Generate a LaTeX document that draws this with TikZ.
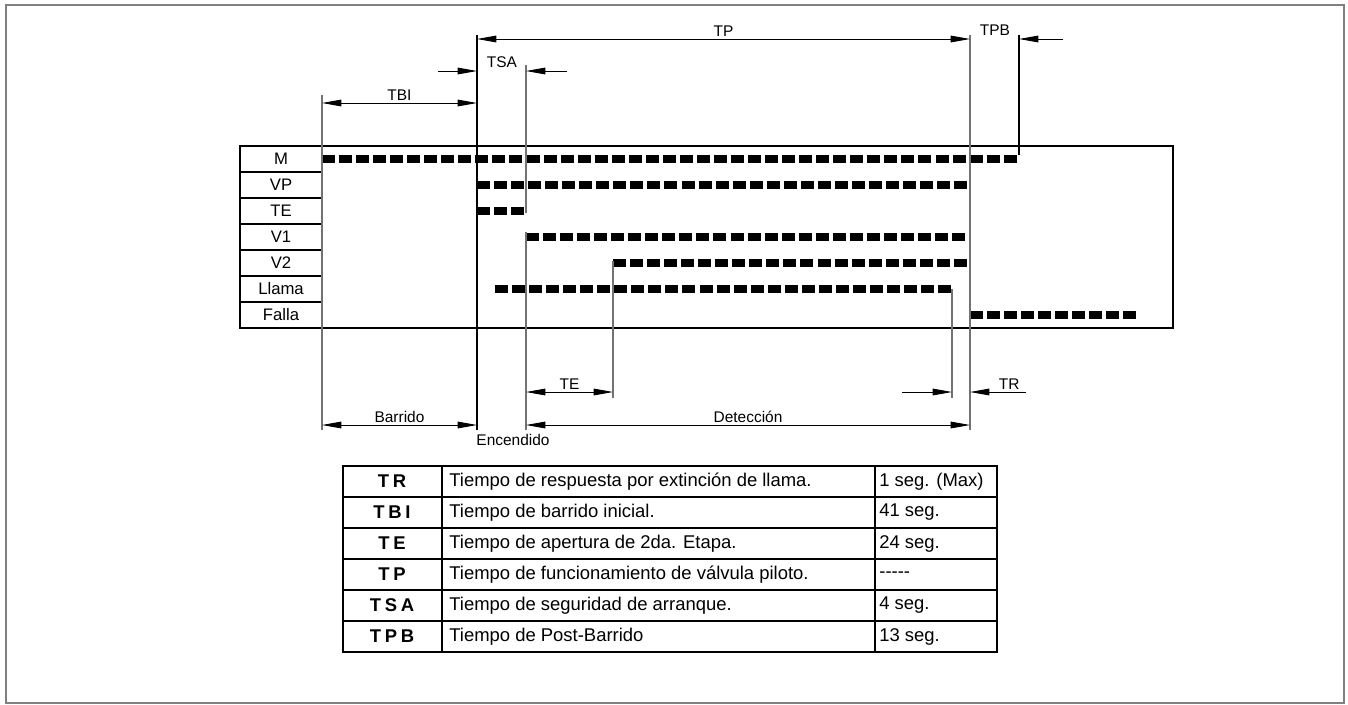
\documentclass[tikz,border=0pt]{standalone}
\usepackage{fontspec}
\setmainfont{Liberation Sans}
\newfontfamily\siglafont{Liberation Sans}[LetterSpace=20]
\usepackage{tikz}
\usetikzlibrary{arrows.meta,calc}

\newcommand\diagfont{\fontsize{8.8}{10}\selectfont}
\newcommand\filafont{\fontsize{9.5}{11}\selectfont}
\newcommand\tablafont{\fontsize{10.5}{12}\selectfont}

\begin{document}
\begin{tikzpicture}[x=0.02cm, y=-0.02cm,
  >={Triangle[length=11pt,width=3.8pt]},
  marco/.style={draw=black!50, line width=1.1pt},
  borde/.style={draw, line width=1.6pt},
  senal/.style={line width=4.6pt, dash pattern=on 7.4pt off 2.3pt},
  guia/.style={draw=black!55, line width=0.7pt},
  cota/.style={draw, line width=0.5pt},
  etq/.style={font=\diagfont, inner sep=1pt},
  fila/.style={font=\filafont, inner sep=0pt},
  sigla/.style={font=\tablafont\siglafont\bfseries, inner sep=0pt},
  celda/.style={font=\tablafont, anchor=west, inner sep=0pt}]

\useasboundingbox (0,0) rectangle (1348,704);
\draw[marco] (6,5) rectangle (1344,703);

% instantes
\coordinate (t0) at (322,0);
\coordinate (t1) at (477,0);
\coordinate (t2) at (526,0);
\coordinate (t3) at (613,0);
\coordinate (t4) at (952,0);
\coordinate (t5) at (970,0);
\coordinate (t6) at (1019,0);
\coordinate (ll) at (495,0);
\coordinate (fin) at (1139,0);

% tabla de senales
\draw[borde] (240,146) rectangle (1173,328);
\draw[borde] (322,146) -- (322,328);
\foreach \y in {172,198,224,250,276,302}
  \draw[borde] (240,\y) -- (322,\y);
\foreach \lbl [count=\i] in {M,VP,TE,V1,V2,Llama,Falla}
  \node[fila] (s\i) at (281,133+26*\i) {\lbl};

\draw[senal] (t0 |- s1) -- (t6 |- s1);
\draw[senal] (t1 |- s2) -- (t5 |- s2);
\draw[senal] (t1 |- s3) -- (t2 |- s3);
\draw[senal] (t2 |- s4) -- (t5 |- s4);
\draw[senal] (t3 |- s5) -- (t5 |- s5);
\draw[senal] (ll |- s6) -- (t4 |- s6);
\draw[senal] (t5 |- s7) -- (fin |- s7);

% lineas de referencia
\draw[guia] ($(t0)+(0,95)$) -- ($(t0)+(0,430)$);
\draw[guia, draw=black] ($(t1)+(0,35)$) -- ($(t1)+(0,430)$);
\draw[guia] ($(t2)+(0,65)$) -- ($(t2)+(0,213)$);
\draw[guia] ($(t2)+(0,232)$) -- ($(t2)+(0,430)$);
\draw[guia] ($(t3)+(0,261)$) -- ($(t3)+(0,398)$);
\draw[guia] ($(t4)+(0,289)$) -- ($(t4)+(0,398)$);
\draw[guia] ($(t5)+(0,35)$) -- ($(t5)+(0,430)$);
\draw[guia, draw=black] ($(t6)+(0,35)$) -- ($(t6)+(0,155)$);

% cotas
\draw[cota, <->] ($(t1)+(0,39)$) -- node[etq, above] {TP} ($(t5)+(0,39)$);
\draw[cota, ->] (1063,39) -- ($(t6)+(0,39)$);
\node[etq] (tpb) at (995,30) {TPB};
\draw[cota, ->] (438,71) -- ($(t1)+(0,71)$);
\draw[cota, ->] (567,71) -- ($(t2)+(0,71)$);
\node[etq] (tsa) at (502,62) {TSA};
\draw[cota, <->] ($(t0)+(0,103)$) -- node[etq, above] {TBI} ($(t1)+(0,103)$);
\draw[cota, <->] ($(t2)+(0,392)$) -- node[etq, above] {TE} ($(t3)+(0,392)$);
\draw[cota, ->] (902,392) -- ($(t4)+(0,392)$);
\draw[cota, ->] (1026,392) -- node[etq, above, pos=0.3] {TR} ($(t5)+(0,392)$);
\draw[cota, <->] ($(t0)+(0,425)$) -- node[etq, above] {Barrido} ($(t1)+(0,425)$);
\draw[cota, <->] ($(t2)+(0,425)$) -- node[etq, above] {Detección} ($(t5)+(0,425)$);
\node[etq] (enc) at (513,440) {Encendido};

% tabla de tiempos
\draw[borde] (343,466) rectangle (997,652);
\draw[borde] (442,466) -- (442,652);
\draw[borde] (875,466) -- (875,652);
\foreach \y in {497,528,559,590,621}
  \draw[borde] (343,\y) -- (997,\y);
\foreach \sig/\desc/\val [count=\i] in {
  TR/Tiempo de respuesta por extinción de llama./1 seg. (Max),
  TBI/Tiempo de barrido inicial./41 seg.,
  TE/Tiempo de apertura de 2da. Etapa./24 seg.,
  TP/Tiempo de funcionamiento de válvula piloto./-{}-{}-{}-{}-,
  TSA/Tiempo de seguridad de arranque./4 seg.,
  TPB/Tiempo de Post-Barrido/13 seg.}{
  \node[sigla] (sig\i) at (392,450.5+31*\i) {\sig};
  \node[celda] (desc\i) at (449,450.5+31*\i) {\desc};
  \node[celda] (val\i) at (879,450.5+31*\i) {\val};
}
\end{tikzpicture}
\end{document}
